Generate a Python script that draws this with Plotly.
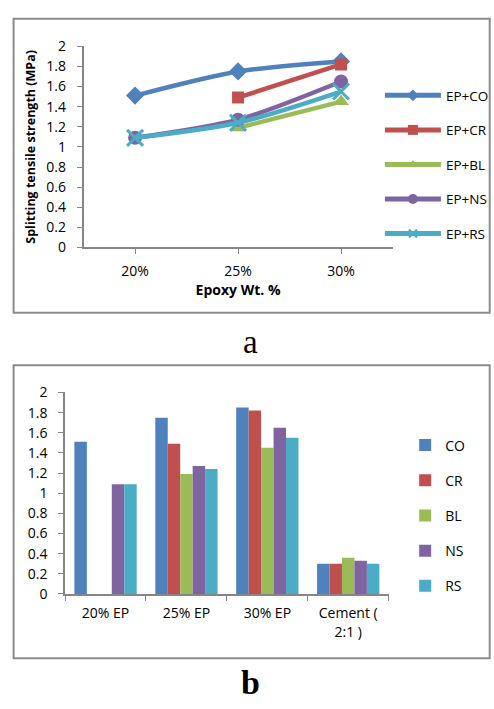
import plotly.graph_objects as go

W, H = 494, 709

# ---- data ----
line_categories = ["20%", "25%", "30%"]
ep_co = [1.51, 1.75, 1.85]
ep_cr = [None, 1.49, 1.82]
ep_bl = [None, 1.19, 1.45]
ep_ns = [1.09, 1.27, 1.65]
ep_rs = [1.09, 1.24, 1.55]

bar_categories = ["20% EP", "25% EP", "30% EP", "Cement (<br>2:1 )"]
co = [1.51, 1.75, 1.85, 0.30]
cr = [None, 1.49, 1.82, 0.30]
bl = [None, 1.19, 1.45, 0.36]
ns = [1.09, 1.27, 1.65, 0.33]
rs = [1.09, 1.24, 1.55, 0.30]

y_ticks = [0, 0.2, 0.4, 0.6, 0.8, 1, 1.2, 1.4, 1.6, 1.8, 2]
y_ticktext = ["0", "0.2", "0.4", "0.6", "0.8", "1", "1.2", "1.4", "1.6", "1.8", "2"]

colors = ["#4F81BD", "#C0504D", "#9BBB59", "#8064A2", "#4BACC6"]

FONT = "Open Sans"
AX = "#868686"

def px(v):  # page x (pixels) -> paper fraction
    return v / W

def py(v):  # page y (pixels from top) -> paper fraction
    return 1 - v / H

fig = go.Figure()

line_series = [
    ("EP+CO", ep_co, "diamond", 14, 9),
    ("EP+CR", ep_cr, "square", 12, 10),
    ("EP+BL", ep_bl, "triangle-up", 14, 9),
    ("EP+NS", ep_ns, "circle", 14, 10),
    ("EP+RS", ep_rs, "x-thin-open", 16, 8),
]
for i, (name, vals, sym, size, lsize) in enumerate(line_series):
    mk = dict(symbol=sym, size=size, color=colors[i])
    lmk = dict(symbol=sym, size=lsize, color=colors[i])
    if sym == "x-thin-open":
        mk["line"] = dict(color=colors[i], width=3)
        lmk["line"] = dict(color=colors[i], width=2)
    # data trace
    fig.add_trace(go.Scatter(
        x=line_categories, y=vals, name=name, mode="lines+markers",
        line=dict(color=colors[i], width=4.5, shape="spline", smoothing=0.8),
        marker=mk, xaxis="x", yaxis="y", showlegend=False,
        legendgroup=name, connectgaps=False,
    ))
    # legend key (small marker like the original key)
    fig.add_trace(go.Scatter(
        x=[None], y=[None], name=name, mode="lines+markers",
        line=dict(color=colors[i], width=5), marker=lmk,
        xaxis="x", yaxis="y", legend="legend", legendgroup=name,
    ))

bar_series = [("CO", co), ("CR", cr), ("BL", bl), ("NS", ns), ("RS", rs)]
for i, (name, vals) in enumerate(bar_series):
    fig.add_trace(go.Bar(
        x=bar_categories, y=vals, name=name,
        marker=dict(color=colors[i], line=dict(width=0)),
        xaxis="x2", yaxis="y2", legend="legend2", legendgroup=name,
    ))

axis_common = dict(showgrid=False, zeroline=False, showline=True, linecolor=AX,
                   linewidth=1.5, ticks="outside", tickcolor=AX, ticklen=5,
                   tickfont=dict(family=FONT, size=14, color="#000"))

fig.update_layout(
    width=W, height=H,
    margin=dict(l=0, r=0, t=0, b=0),
    paper_bgcolor="white", plot_bgcolor="white",
    barmode="group", bargap=0.23, bargroupgap=0,
    xaxis=dict(domain=[px(86), px(404)], anchor="y", type="category",
               range=[-0.5, 2.5], ticklabelstandoff=5,
               title=dict(text="<b>Epoxy Wt. %</b>", font=dict(family=FONT, size=14, color="#000"),
                          standoff=1),
               **axis_common),
    yaxis=dict(domain=[py(244), py(37.3)], anchor="x", range=[0, 2],
               tickvals=y_ticks, ticktext=y_ticktext, ticklabelstandoff=8,
               title=dict(text="<b>Splitting tensile strength (MPa)</b>",
                          font=dict(family=FONT, size=12.5, color="#000"), standoff=8),
               **axis_common),
    xaxis2=dict(domain=[px(67), px(400)], anchor="y2", type="category",
                range=[-0.5, 3.5], tickson="boundaries", ticklabelstandoff=6,
                **axis_common),
    yaxis2=dict(domain=[py(600), py(393)], anchor="x2", range=[0, 2],
                tickvals=y_ticks, ticktext=y_ticktext, ticklabelstandoff=8,
                **axis_common),
    legend=dict(x=px(391), y=py(72), xanchor="left", yanchor="top",
                font=dict(family=FONT, size=13.5, color="#000"),
                tracegroupgap=14, bgcolor="rgba(0,0,0,0)", itemwidth=56),
    legend2=dict(x=px(417), y=py(431), xanchor="left", yanchor="top",
                 font=dict(family=FONT, size=14, color="#000"),
                 tracegroupgap=14, bgcolor="rgba(0,0,0,0)", itemwidth=30),
    showlegend=True,
)

# chart borders
fig.add_shape(type="rect", xref="paper", yref="paper",
              x0=px(14), x1=px(W + 10), y0=py(311), y1=py(9),
              line=dict(color="#8C8C8C", width=2))
fig.add_shape(type="rect", xref="paper", yref="paper",
              x0=px(14), x1=px(W + 10), y0=py(666), y1=py(365),
              line=dict(color="#8C8C8C", width=2))

fig.add_annotation(text="a", xref="paper", yref="paper", x=px(258), y=py(341),
                   xanchor="center", yanchor="middle",
                   showarrow=False, font=dict(family="Liberation Serif", size=33, color="#000"))
fig.add_annotation(text="<b>b</b>", xref="paper", yref="paper", x=px(258), y=py(691),
                   xanchor="center", yanchor="middle",
                   showarrow=False, font=dict(family="Liberation Serif", size=34, color="#000"))

fig.write_html("out.html", config={"displayModeBar": False},
               post_script="document.body.style.margin='0px';document.body.style.overflow='hidden';")
